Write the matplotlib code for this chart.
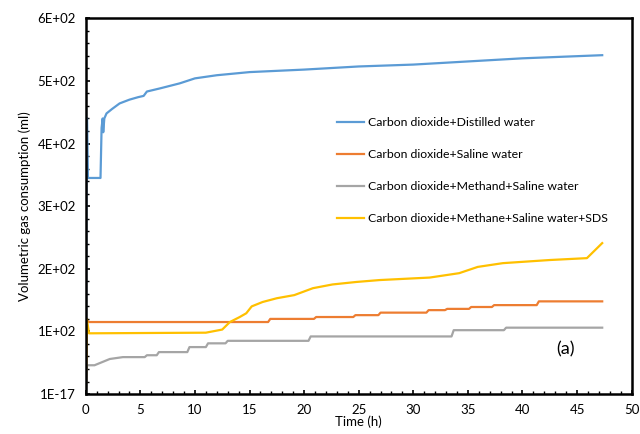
import numpy as np
import matplotlib
matplotlib.use('Agg')
import matplotlib.pyplot as plt
from matplotlib.ticker import MultipleLocator, FixedLocator, FixedFormatter

plt.rcParams['font.family'] = ['Lato', 'DejaVu Sans']

# CO2 + distilled water
t_dist = [0, 0.08, 0.12, 0.2, 1.35, 1.45, 1.55, 1.6, 1.7, 1.9, 2.4, 3.1, 4.0, 4.8,
          5.3, 5.6, 6.8, 8.6, 10, 12, 15, 20, 25, 30, 35, 40, 47.3]
v_dist = [0, 440, 440, 345, 345, 425, 440, 418, 440, 448, 455, 464, 470, 474,
          476, 483, 488, 496, 504, 509, 514, 518, 523, 526, 531, 536, 541]

# CO2 + saline water
t_sal = [0, 0.1, 0.3, 16.7, 16.9, 20.9, 21.1, 24.5, 24.7, 26.8, 27.0, 31.2, 31.4,
         32.9, 33.1, 35.1, 35.3, 37.2, 37.4, 41.3, 41.5, 47.3]
v_sal = [0, 118, 115, 115, 120, 120, 123, 123, 126, 126, 130, 130, 134,
         134, 136, 136, 139, 139, 142, 142, 148, 148]

# CO2 + methane + saline water
t_meth = [0, 0.1, 0.8, 2.2, 3.4, 5.4, 5.6, 6.5, 6.7, 9.3, 9.5, 11.0, 11.2, 12.8, 13.0,
          20.4, 20.6, 33.5, 33.7, 38.3, 38.5, 47.3]
v_meth = [0, 46, 46, 56, 59, 59, 62, 62, 67, 67, 75, 75, 81, 81, 85,
          85, 92, 92, 102, 102, 106, 106]

# CO2 + methane + saline water + SDS
t_sds = [0, 0.1, 0.3, 11.0, 12.5, 13.2, 14.1, 14.7, 15.2, 16.2, 17.5, 19.1, 20.8,
         22.6, 24.8, 26.9, 31.5, 34.2, 35.9, 38.2, 42.5, 45.9, 47.3]
v_sds = [0, 120, 97, 98, 103, 115, 123, 129, 140, 147, 153, 158, 169,
         175, 179, 182, 186, 193, 203, 209, 214, 217, 241]

labels = ['Carbon dioxide+Distilled water',
          'Carbon dioxide+Saline water',
          'Carbon dioxide+Methand+Saline water',
          'Carbon dioxide+Methane+Saline water+SDS']
colors = ['#5B9BD5', '#ED7D31', '#A5A5A5', '#FFC000']

y_ticks = [0, 100, 200, 300, 400, 500, 600]
y_ticklabels = ['1E-17', '1E+02', '2E+02', '3E+02', '4E+02', '5E+02', '6E+02']

fig = plt.figure(figsize=(6.4, 4.34), dpi=100)
ax = fig.add_axes([0.134, 0.092, 0.853, 0.866])

series = [(t_dist, v_dist), (t_sal, v_sal), (t_meth, v_meth), (t_sds, v_sds)]
for (t, v), lab, c in zip(series, labels, colors):
    ax.plot(t, v, color=c, lw=1.6, label=lab)

ax.set_xlim(0, 50)
ax.set_ylim(0, 600)
ax.xaxis.set_major_locator(MultipleLocator(5))
ax.xaxis.set_minor_locator(MultipleLocator(1))
ax.yaxis.set_major_locator(FixedLocator(y_ticks))
ax.yaxis.set_major_formatter(FixedFormatter(y_ticklabels))
ax.yaxis.set_minor_locator(MultipleLocator(20))
ax.tick_params(which='both', direction='in', labelsize=9.5, color='black')
ax.tick_params(which='major', length=3, width=1.2, pad=7)
ax.tick_params(which='minor', length=2, width=1)
for s in ax.spines.values():
    s.set_linewidth(1.8)
    s.set_color('black')

ax.set_xlabel('Time (h)', fontsize=9.5, labelpad=0)
ax.set_ylabel('Volumetric gas consumption (ml)', fontsize=9.5, labelpad=5)

ax.legend(loc='upper left', bbox_to_anchor=(0.51, 0.755), bbox_transform=fig.transFigure,
          frameon=False, fontsize=8.8, handlelength=2.2, handletextpad=0.3, labelspacing=1.72)
ax.text(43.1, 72, '(a)', fontsize=13, va='center')

fig.savefig('out.png', dpi=100)
